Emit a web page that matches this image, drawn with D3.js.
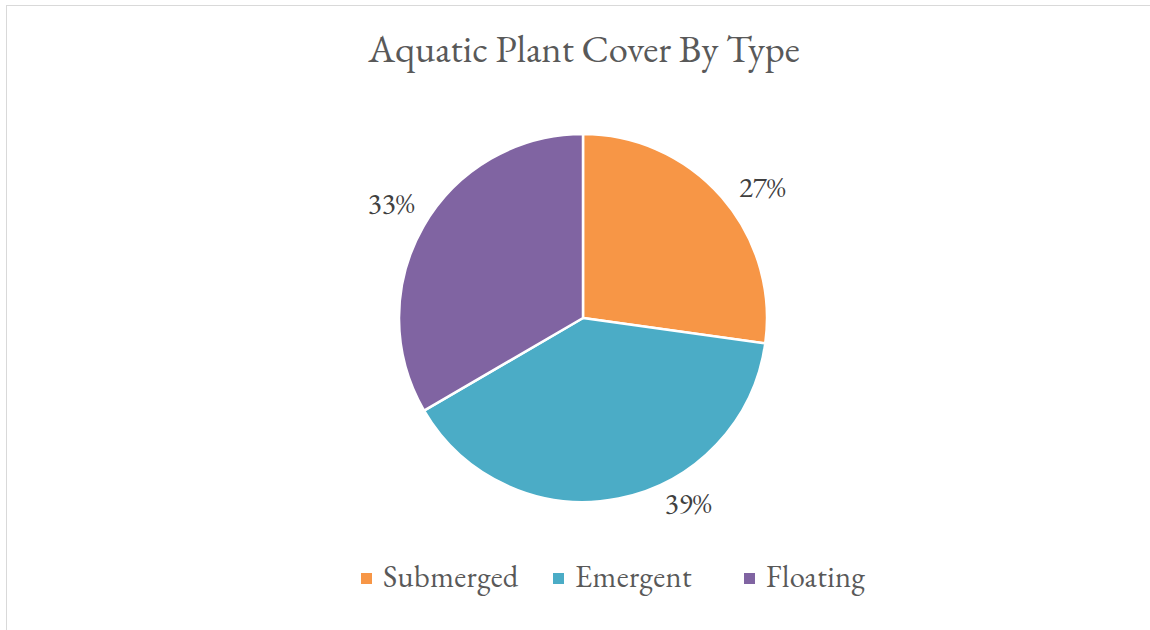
<!DOCTYPE html>
<html>
<head>
<meta charset="utf-8">
<script src="https://cdn.jsdelivr.net/npm/d3@7"></script>
<style>
  html, body { margin: 0; padding: 0; background: #fff; }
  svg { display: block; }
</style>
</head>
<body>
<svg id="chart" width="1150" height="630"></svg>
<script>
// Cover share by plant type (percent)
const categories = ["Submerged", "Emergent", "Floating"];
const values = [27.2, 39.4, 33.4];
const colors = ["#F79646", "#4BACC6", "#8064A2"];
const title = "Aquatic Plant Cover By Type";

// Label placement: fraction along each slice's arc, and distance from centre
const labelFraction = [0.55, 0.37, 0.51];
const labelRadius = [222, 213, 224];

const W = 1150, H = 630;
const cx = 583, cy = 318, radius = 184;
const serif = "'EB Garamond', Garamond, 'Liberation Serif', 'DejaVu Serif', serif";

const svg = d3.select("#chart");

// Chart area outline
svg.append("rect")
  .attr("x", 6.5).attr("y", 5.5)
  .attr("width", W + 20).attr("height", H + 20)
  .attr("fill", "#fff")
  .attr("stroke", "#d9d9d9")
  .attr("stroke-width", 1);

svg.append("text")
  .attr("x", cx + 1).attr("y", 62)
  .attr("text-anchor", "middle")
  .attr("font-family", serif)
  .attr("font-size", 38.5)
  .attr("fill", "#595959")
  .text(title);

const data = categories.map((c, i) => ({ name: c, value: values[i], color: colors[i], i }));
const total = d3.sum(values);

const pie = d3.pie().value(d => d.value).sort(null);
const arcs = pie(data);
const arc = d3.arc().innerRadius(0).outerRadius(radius);

const g = svg.append("g").attr("transform", `translate(${cx},${cy})`);

g.selectAll("path.slice")
  .data(arcs)
  .enter().append("path")
  .attr("class", "slice")
  .attr("d", arc)
  .attr("fill", d => d.data.color)
  .attr("stroke", "#fff")
  .attr("stroke-width", 2.5)
  .attr("stroke-linejoin", "round");

g.selectAll("text.label")
  .data(arcs)
  .enter().append("text")
  .attr("class", "label")
  .attr("transform", d => {
    const a = d.startAngle + (d.endAngle - d.startAngle) * labelFraction[d.data.i];
    const r = labelRadius[d.data.i];
    return `translate(${r * Math.sin(a)},${-r * Math.cos(a)})`;
  })
  .attr("dy", "0.35em")
  .attr("text-anchor", "middle")
  .attr("font-family", serif)
  .attr("font-size", 29)
  .attr("fill", "#404040")
  .text(d => Math.round(d.data.value / total * 100) + "%");

// Legend
const legendItemX = [361, 553, 744];
const legend = svg.append("g");
const items = legend.selectAll("g.item")
  .data(data)
  .enter().append("g")
  .attr("class", "item")
  .attr("transform", d => `translate(${legendItemX[d.i]},0)`);

items.append("rect")
  .attr("x", 0).attr("y", 573)
  .attr("width", 11).attr("height", 11)
  .attr("fill", d => d.color);

items.append("text")
  .attr("x", 22).attr("y", 587)
  .attr("font-family", serif)
  .attr("font-size", 30.5)
  .attr("letter-spacing", 0.4)
  .attr("fill", "#595959")
  .text(d => d.name);
</script>
</body>
</html>
